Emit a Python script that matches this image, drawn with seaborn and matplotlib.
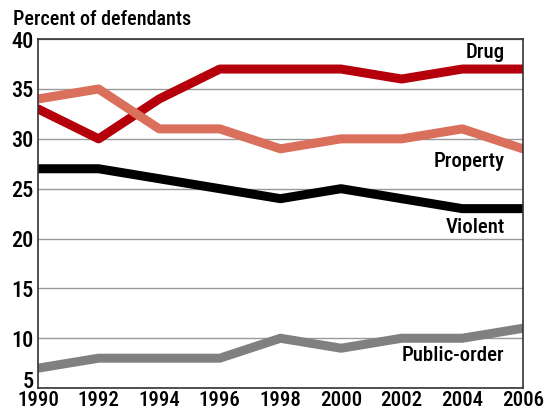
import pandas as pd
import matplotlib.pyplot as plt
import matplotlib.transforms as mtrans
import seaborn as sns

years = [1990, 1992, 1994, 1996, 1998, 2000, 2002, 2004, 2006]
drug = [33, 30, 34, 37, 37, 37, 36, 37, 37]
property_ = [34, 35, 31, 31, 29, 30, 30, 31, 29]
violent = [27, 27, 26, 25, 24, 25, 24, 23, 23]
public_order = [7, 8, 8, 8, 10, 9, 10, 10, 11]

series = {"Drug": drug, "Property": property_, "Violent": violent, "Public-order": public_order}
df = pd.DataFrame([
    {"year": y, "offense": name, "pct": v}
    for name, vals in series.items() for y, v in zip(years, vals)
])

colors = {"Drug": "#B5000B", "Property": "#DA705B", "Violent": "#000000", "Public-order": "#808080"}

sns.set_style("white")
plt.rcParams["font.family"] = ["Roboto Condensed", "DejaVu Sans"]
plt.rcParams["font.stretch"] = "condensed"
plt.rcParams["font.weight"] = "medium"
plt.rcParams["text.color"] = "black"
plt.rcParams["xtick.color"] = "black"
plt.rcParams["ytick.color"] = "black"

fig = plt.figure(figsize=(5.46, 4.12), dpi=100)
ax = fig.add_axes([0.0696, 0.058, 0.888, 0.847])

for y in range(5, 41, 5):
    ax.axhline(y, color="#999999", lw=1, zorder=0)

sns.lineplot(data=df, x="year", y="pct", hue="offense", palette=colors,
             linewidth=6.5, legend=False, ax=ax, solid_capstyle="round")

ax.set_xlim(1990, 2006)
ax.set_ylim(5, 40)
ax.set_xticks(years)
ax.set_yticks(range(5, 41, 5))
ax.tick_params(axis="y", length=0, labelsize=16, pad=3)
ax.tick_params(axis="x", length=0, labelsize=15, pad=2)
ax.set_xlabel("")
ax.set_ylabel("")
for s in ax.spines.values():
    s.set_color("#333333")
    s.set_linewidth(1.2)

# bottom y label sits higher so it clears the 1990 label
fig.canvas.draw()
lab5 = ax.get_yticklabels()[0]
lab5.set_transform(lab5.get_transform() + mtrans.ScaledTranslation(0, 9 / 100, fig.dpi_scale_trans))

lbl = dict(fontsize=15, ha="right", va="center")
ax.text(2005.4, 38.7, "Drug", **lbl)
ax.text(2005.4, 27.7, "Property", **lbl)
ax.text(2005.4, 21.1, "Violent", **lbl)
ax.text(2005.4, 8.3, "Public-order", **lbl)
fig.text(0.024, 0.952, "Percent of defendants", fontsize=14.5, ha="left", va="center")

fig.savefig("out.png", dpi=100)
